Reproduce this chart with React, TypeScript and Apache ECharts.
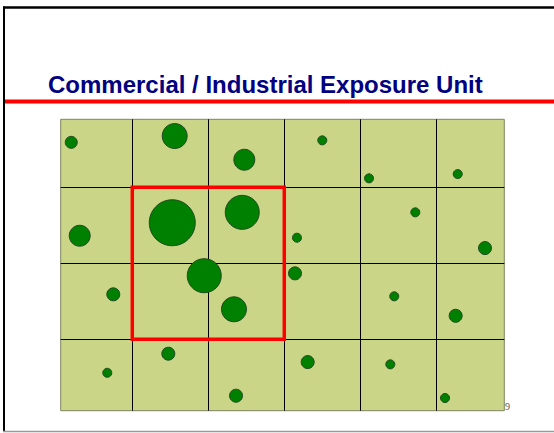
import React, { useEffect, useRef } from "react";
import * as echarts from "echarts";

// Exposure-unit grid: cell boundaries (in cell units) and the dots
const columnLines = [1, 2, 3, 4, 5];
const rowLines = [1, 2, 3];
const xRange = [0.058, 5.895];
const yRange = [0.105, 3.939];
const exposureUnit = [[1, 1], [3, 3]];

const dotX = [0.197, 1.558, 2.474, 1.526, 2.447, 0.308, 3.167, 1.947, 3.141, 0.75, 2.338, 1.474, 0.671, 2.365, 3.5, 4.115, 5.282, 4.724, 5.641, 4.447, 5.255, 3.308, 4.395, 5.115];
const dotY = [0.408, 0.325, 0.637, 1.466, 1.329, 1.637, 1.663, 2.163, 2.132, 2.408, 2.605, 3.189, 3.44, 3.742, 0.382, 0.882, 0.825, 1.329, 1.799, 2.434, 2.69, 3.299, 3.329, 3.772];
const dotSize = [12, 25, 21, 46, 34, 21, 9, 34, 13, 13, 25, 13, 9, 13, 9, 9, 9, 9, 13, 9, 13, 13, 9, 9];

const titleText = "Commercial / Industrial Exposure Unit";
const pageNumber = "9";

export default function App() {
  const ref = useRef<HTMLDivElement>(null);
  useEffect(() => {
    if (!ref.current) return;
    const chart = echarts.init(ref.current, null, { renderer: "svg" });
    const dots = dotX.map((x, i) => [x, dotY[i], dotSize[i]]);
    chart.setOption({
      animation: false,
      backgroundColor: "#ffffff",
      grid: {
        left: 60.7,
        top: 119.3,
        width: 443.6,
        height: 291.4,
        show: true,
        backgroundColor: "#CBD588",
        borderColor: "#7f8462",
        borderWidth: 1,
      },
      xAxis: {
        type: "value",
        min: xRange[0],
        max: xRange[1],
        axisLine: { show: false },
        axisTick: { show: false },
        axisLabel: { show: false },
        splitLine: { show: false },
      },
      yAxis: {
        type: "value",
        inverse: true,
        min: yRange[0],
        max: yRange[1],
        axisLine: { show: false },
        axisTick: { show: false },
        axisLabel: { show: false },
        splitLine: { show: false },
      },
      series: [
        {
          type: "scatter",
          z: 1,
          data: [],
          silent: true,
          markLine: {
            silent: true,
            z: 1,
            symbol: "none",
            label: { show: false },
            lineStyle: { color: "#000000", width: 1, type: "solid" },
            data: [
              ...columnLines.map((v) => ({ xAxis: v })),
              ...rowLines.map((v) => ({ yAxis: v })),
            ],
          },
        },
        {
          type: "scatter",
          z: 3,
          data: [],
          silent: true,
          markArea: {
            silent: true,
            z: 3,
            itemStyle: { color: "rgba(0,0,0,0)", borderColor: "#ff0000", borderWidth: 3.5 },
            data: [[
              { xAxis: exposureUnit[0][0], yAxis: exposureUnit[0][1] },
              { xAxis: exposureUnit[1][0], yAxis: exposureUnit[1][1] },
            ]],
          },
        },
        {
          type: "scatter",
          z: 5,
          data: dots,
          symbolSize: (d: number[]) => d[2],
          itemStyle: { color: "#008000", borderColor: "#1f4a1f", borderWidth: 1, opacity: 1 },
        },
      ],
      graphic: [
        { type: "line", shape: { x1: 3, y1: 7.5, x2: 554, y2: 7.5 }, style: { stroke: "#000", lineWidth: 2.5 } },
        { type: "line", shape: { x1: 4, y1: 6.5, x2: 4, y2: 432 }, style: { stroke: "#000", lineWidth: 2 } },
        { type: "line", shape: { x1: 3, y1: 431.5, x2: 554, y2: 431.5 }, style: { stroke: "#999", lineWidth: 1.5 } },
        { type: "line", shape: { x1: 5, y1: 101.5, x2: 554, y2: 101.5 }, style: { stroke: "#ff0000", lineWidth: 4 } },
        {
          type: "text",
          x: 48,
          y: 84.5,
          style: {
            text: titleText,
            fill: "#000080",
            font: "bold 24px 'Liberation Sans', Arial, sans-serif",
            verticalAlign: "middle",
            align: "left",
          },
        },
        {
          type: "text",
          x: 505,
          y: 406,
          style: {
            text: pageNumber,
            fill: "#555555",
            font: "10px 'Liberation Serif', 'DejaVu Serif', serif",
            verticalAlign: "middle",
            align: "left",
          },
        },
      ],
    });
    return () => chart.dispose();
  }, []);
  return (
    <div
      ref={ref}
      style={{ position: "absolute", left: 0, top: 0, width: 554, height: 433 }}
    />
  );
}
